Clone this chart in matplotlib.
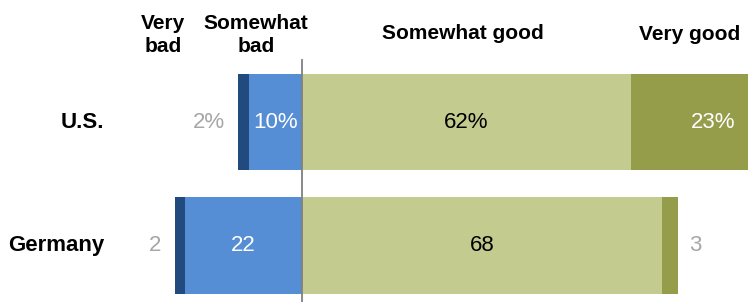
import matplotlib
matplotlib.use("Agg")
import matplotlib.pyplot as plt

countries = ["U.S.", "Germany"]
very_bad = [2, 2]
somewhat_bad = [10, 22]
somewhat_good = [62, 68]
very_good = [23, 3]
suffix = ["%", ""]
headers = ["Very\nbad", "Somewhat\nbad", "Somewhat good", "Very good"]

c_vbad = "#214a7e"
c_sbad = "#558ed5"
c_sgood = "#c4cb8e"
c_vgood = "#959d4b"
gray = "#a6a6a6"

bold_font = "Liberation Sans"
reg_font = "Liberation Sans"

fig = plt.figure(figsize=(7.48, 3.02), dpi=100)
ax = fig.add_axes([0, 0, 1, 1])
ppu = 5.3
ax.set_xlim(-302 / ppu, (748 - 302) / ppu)
ax.set_ylim(1 + (302 - 245.5) / 123.5, -122 / 123.5)
ax.axis("off")

h = 0.78
ys = list(range(len(countries)))
ax.barh(ys, [-v for v in somewhat_bad], height=h, color=c_sbad, left=0)
ax.barh(ys, [-v for v in very_bad], height=h, color=c_vbad,
        left=[-v for v in somewhat_bad])
ax.barh(ys, somewhat_good, height=h, color=c_sgood, left=0)
ax.barh(ys, very_good, height=h, color=c_vgood, left=somewhat_good)

ax.axvline(0, ymin=0, ymax=(302 - 60) / 302, color="#808080", lw=1.3)

fs = 16
hfs = 15
for i, y in enumerate(ys):
    s = suffix[i]
    ax.text(-somewhat_bad[i] / 2, y, f"{somewhat_bad[i]}{s}", ha="center", va="center",
            color="white", fontsize=fs, family=reg_font)
    ax.text(-(somewhat_bad[i] + very_bad[i]) - 2.5, y, f"{very_bad[i]}{s}", ha="right",
            va="center", color=gray, fontsize=fs, family=reg_font)
    ax.text(somewhat_good[i] / 2, y, f"{somewhat_good[i]}{s}", ha="center", va="center",
            color="black", fontsize=fs, family=reg_font)
    if very_good[i] >= 10:
        ax.text(somewhat_good[i] + very_good[i] / 2 + 4, y, f"{very_good[i]}{s}",
                ha="center", va="center", color="white", fontsize=fs, family=reg_font)
    else:
        ax.text(somewhat_good[i] + very_good[i] + 2, y, f"{very_good[i]}{s}",
                ha="left", va="center", color=gray, fontsize=fs, family=reg_font)
    ax.text((104 - 302) / ppu, y, countries[i], ha="right", va="center",
            fontsize=fs, fontweight="bold", family=bold_font)

hy = -122 / 123.5
def ypx(p):
    return hy + p / 123.5

ax.text((163 - 302) / ppu, ypx(35), headers[0], ha="center", va="center",
        fontsize=hfs, fontweight="bold", family=bold_font, linespacing=1.3)
ax.text((256 - 302) / ppu, ypx(35), headers[1], ha="center", va="center",
        fontsize=hfs, fontweight="bold", family=bold_font, linespacing=1.3)
ax.text((463 - 302) / ppu, ypx(33), headers[2], ha="center", va="center",
        fontsize=hfs, fontweight="bold", family=bold_font)
ax.text((690 - 302) / ppu, ypx(35), headers[3], ha="center", va="center",
        fontsize=hfs, fontweight="bold", family=bold_font)

fig.savefig("out.png", dpi=100)
